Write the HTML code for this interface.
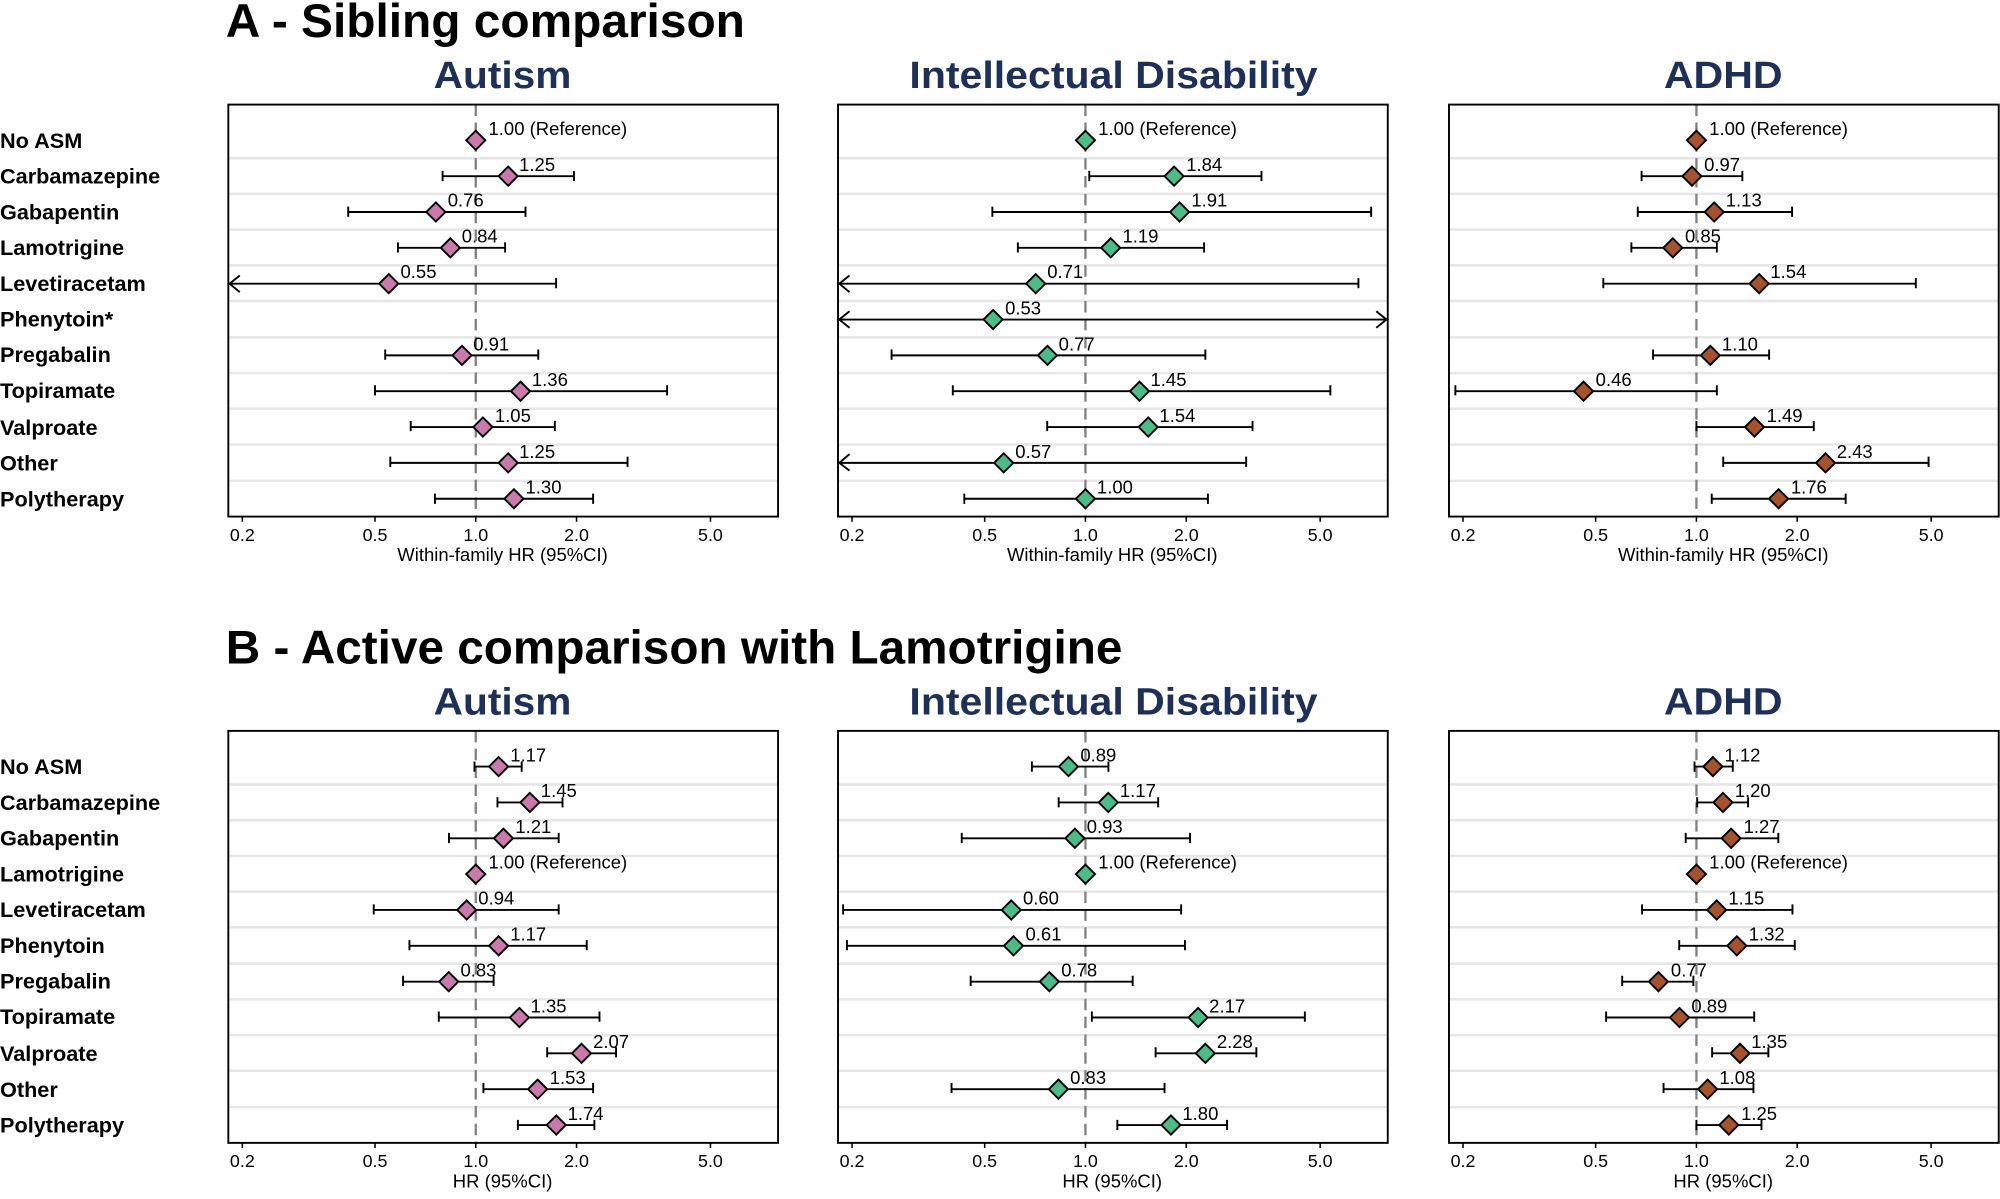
<!DOCTYPE html>
<html><head><meta charset="utf-8"><style>html,body{margin:0;padding:0;background:#fff}svg{display:block}</style></head>
<body>
<svg width="2000" height="1199" viewBox="0 0 1568 940" preserveAspectRatio="none" xmlns="http://www.w3.org/2000/svg" font-family="Liberation Sans, Arial, sans-serif">
<defs>
<path id="d" d="M0,-7.5L7.5,0L0,7.5L-7.5,0Z" stroke="#000" stroke-width="1.5"/>
<g id="frame">
<g stroke="#e6e6e6" stroke-width="2">
<path d="M179 124H610M179 152H610M179 180H610M179 208H610M179 236H610M179 264.5H610M179 292.5H610M179 320.5H610M179 348.5H610M179 377H610"/>
</g>
<path d="M373 82V405" stroke="#808080" stroke-width="1.8" stroke-dasharray="9,5"/>
<rect x="179" y="82" width="431" height="323" fill="none" stroke="#000" stroke-width="1.5"/>
<path d="M190 405V409M294 405V409M373 405V409M452 405V409M557 405V409" stroke="#000" stroke-width="1.2"/>
<g font-size="14" text-anchor="middle" fill="#000">
<text x="190" y="424">0.2</text><text x="294" y="424">0.5</text><text x="373" y="424">1.0</text><text x="452" y="424">2.0</text><text x="557" y="424">5.0</text>
</g>
</g>
</defs>

<text x="177" y="29" font-size="37" font-weight="bold" textLength="407" lengthAdjust="spacingAndGlyphs">A - Sibling comparison</text>
<text x="177" y="520" font-size="37" font-weight="bold" textLength="703" lengthAdjust="spacingAndGlyphs">B - Active comparison with Lamotrigine</text>

<g font-size="30" font-weight="bold" fill="#1e2f58" text-anchor="middle">
<text x="394" y="69" textLength="108" lengthAdjust="spacingAndGlyphs">Autism</text>
<text x="873" y="69" textLength="320" lengthAdjust="spacingAndGlyphs">Intellectual Disability</text>
<text x="1351" y="69" textLength="93" lengthAdjust="spacingAndGlyphs">ADHD</text>
<text x="394" y="560" textLength="108" lengthAdjust="spacingAndGlyphs">Autism</text>
<text x="873" y="560" textLength="320" lengthAdjust="spacingAndGlyphs">Intellectual Disability</text>
<text x="1351" y="560" textLength="93" lengthAdjust="spacingAndGlyphs">ADHD</text>
</g>

<g font-size="17" font-weight="bold">
<text x="0" y="116">No ASM</text><text x="0" y="144">Carbamazepine</text><text x="0" y="172">Gabapentin</text><text x="0" y="200">Lamotrigine</text><text x="0" y="228">Levetiracetam</text><text x="0" y="256">Phenytoin*</text><text x="0" y="284">Pregabalin</text><text x="0" y="312">Topiramate</text><text x="0" y="341">Valproate</text><text x="0" y="369">Other</text><text x="0" y="397">Polytherapy</text>
</g>
<g font-size="17" font-weight="bold" transform="translate(0,491)">
<text x="0" y="116">No ASM</text><text x="0" y="144">Carbamazepine</text><text x="0" y="172">Gabapentin</text><text x="0" y="200">Lamotrigine</text><text x="0" y="228">Levetiracetam</text><text x="0" y="256">Phenytoin</text><text x="0" y="284">Pregabalin</text><text x="0" y="312">Topiramate</text><text x="0" y="341">Valproate</text><text x="0" y="369">Other</text><text x="0" y="397">Polytherapy</text>
</g>

<!-- A Autism -->
<g>
<use href="#frame"/>
<text x="394" y="440" font-size="14.5" text-anchor="middle">Within-family HR (95%CI)</text>
<g stroke="#000" stroke-width="1.5" fill="none">
<path d="M347 138.1H450M347 134V142M450 134V142"/>
<path d="M273 166.2H412M273 162V170M412 162V170"/>
<path d="M312 194.3H396M312 190V198M396 190V198"/>
<path d="M180 222.4H436M436 218V226M188 216L180 222.4L188 229"/>
<path d="M302 278.6H422M302 274V282M422 274V282"/>
<path d="M294 306.7H523M294 302V310M523 302V310"/>
<path d="M322 334.8H435M322 330V338M435 330V338"/>
<path d="M306 362.9H492M306 358V366M492 358V366"/>
<path d="M341 391H465M341 387V395M465 387V395"/>
</g>
<g fill="#c97aab">
<use href="#d" x="373" y="110"/><use href="#d" x="398.4" y="138.1"/><use href="#d" x="341.7" y="166.2"/><use href="#d" x="353.1" y="194.3"/><use href="#d" x="304.8" y="222.4"/><use href="#d" x="362.2" y="278.6"/><use href="#d" x="408.1" y="306.7"/><use href="#d" x="378.6" y="334.8"/><use href="#d" x="398.4" y="362.9"/><use href="#d" x="402.9" y="391"/>
</g>
<g font-size="14.5">
<text x="383" y="106">1.00 (Reference)</text><text x="407" y="134">1.25</text><text x="351" y="162">0.76</text><text x="362" y="190">0.84</text><text x="314" y="218">0.55</text><text x="371" y="274.6">0.91</text><text x="417" y="302.7">1.36</text><text x="388" y="330.8">1.05</text><text x="407" y="358.9">1.25</text><text x="412" y="387">1.30</text>
</g>
</g>

<!-- A ID -->
<g transform="translate(478,0)">
<use href="#frame"/>
<text x="394" y="440" font-size="14.5" text-anchor="middle">Within-family HR (95%CI)</text>
<g stroke="#000" stroke-width="1.5" fill="none">
<path d="M376 138.1H511M376 134V142M511 134V142"/>
<path d="M300 166.2H597M300 162V170M597 162V170"/>
<path d="M320 194.3H466M320 190V198M466 190V198"/>
<path d="M180 222.4H587M587 218V226M188 216L180 222.4L188 229"/>
<path d="M180 250.5H609M188 244L180 250.5L188 257M601 244L609 250.5L601 257"/>
<path d="M221 278.6H467M221 274V282M467 274V282"/>
<path d="M269 306.7H565M269 302V310M565 302V310"/>
<path d="M343 334.8H504M343 330V338M504 330V338"/>
<path d="M180 362.9H499M499 358V366M188 356L180 362.9L188 369"/>
<path d="M278 391H469M278 387V395M469 387V395"/>
</g>
<g fill="#4dbb87">
<use href="#d" x="373" y="110"/><use href="#d" x="442.5" y="138.1"/><use href="#d" x="446.8" y="166.2"/><use href="#d" x="392.8" y="194.3"/><use href="#d" x="334" y="222.4"/><use href="#d" x="300.6" y="250.5"/><use href="#d" x="343.2" y="278.6"/><use href="#d" x="415.4" y="306.7"/><use href="#d" x="422.2" y="334.8"/><use href="#d" x="308.9" y="362.9"/><use href="#d" x="373" y="391"/>
</g>
<g font-size="14.5">
<text x="383" y="106">1.00 (Reference)</text><text x="452" y="134">1.84</text><text x="456" y="162">1.91</text><text x="402" y="190">1.19</text><text x="343" y="218">0.71</text><text x="310" y="246.5">0.53</text><text x="352" y="274.6">0.77</text><text x="424" y="302.7">1.45</text><text x="431" y="330.8">1.54</text><text x="318" y="358.9">0.57</text><text x="382" y="387">1.00</text>
</g>
</g>

<!-- A ADHD -->
<g transform="translate(957,0)">
<use href="#frame"/>
<text x="394" y="440" font-size="14.5" text-anchor="middle">Within-family HR (95%CI)</text>
<g stroke="#000" stroke-width="1.5" fill="none">
<path d="M330 138.1H409M330 134V142M409 134V142"/>
<path d="M327 166.2H448M327 162V170M448 162V170"/>
<path d="M322 194.3H389M322 190V198M389 190V198"/>
<path d="M300 222.4H545M300 218V226M545 218V226"/>
<path d="M339 278.6H430M339 274V282M430 274V282"/>
<path d="M184 306.7H389M184 302V310M389 302V310"/>
<path d="M373 334.8H465M373 330V338M465 330V338"/>
<path d="M394 362.9H555M394 358V366M555 358V366"/>
<path d="M385 391H490M385 387V395M490 387V395"/>
</g>
<g fill="#a5532c">
<use href="#d" x="373" y="110"/><use href="#d" x="369.5" y="138.1"/><use href="#d" x="386.9" y="166.2"/><use href="#d" x="354.5" y="194.3"/><use href="#d" x="422.2" y="222.4"/><use href="#d" x="383.9" y="278.6"/><use href="#d" x="284.5" y="306.7"/><use href="#d" x="418.5" y="334.8"/><use href="#d" x="474.2" y="362.9"/><use href="#d" x="437.4" y="391"/>
</g>
<g font-size="14.5">
<text x="383" y="106">1.00 (Reference)</text><text x="379" y="134">0.97</text><text x="396" y="162">1.13</text><text x="364" y="190">0.85</text><text x="431" y="218">1.54</text><text x="393" y="274.6">1.10</text><text x="294" y="302.7">0.46</text><text x="428" y="330.8">1.49</text><text x="483" y="358.9">2.43</text><text x="447" y="387">1.76</text>
</g>
</g>

<!-- B Autism -->
<g transform="translate(0,491)">
<use href="#frame"/>
<text x="394" y="440" font-size="14.5" text-anchor="middle">HR (95%CI)</text>
<g stroke="#000" stroke-width="1.5" fill="none">
<path d="M372 110H409M372 106V114M409 106V114"/>
<path d="M390 138.1H441M390 134V142M441 134V142"/>
<path d="M352 166.2H438M352 162V170M438 162V170"/>
<path d="M293 222.4H438M293 218V226M438 218V226"/>
<path d="M321 250.5H460M321 246V254M460 246V254"/>
<path d="M316 278.6H387M316 274V282M387 274V282"/>
<path d="M344 306.7H470M344 302V310M470 302V310"/>
<path d="M429 334.8H483M429 330V338M483 330V338"/>
<path d="M379 362.9H465M379 358V366M465 358V366"/>
<path d="M406 391H466M406 387V395M466 387V395"/>
</g>
<g fill="#c97aab">
<use href="#d" x="390.9" y="110"/><use href="#d" x="415.4" y="138.1"/><use href="#d" x="394.7" y="166.2"/><use href="#d" x="373" y="194.3"/><use href="#d" x="365.9" y="222.4"/><use href="#d" x="390.9" y="250.5"/><use href="#d" x="351.8" y="278.6"/><use href="#d" x="407.2" y="306.7"/><use href="#d" x="455.9" y="334.8"/><use href="#d" x="421.5" y="362.9"/><use href="#d" x="436.1" y="391"/>
</g>
<g font-size="14.5">
<text x="400" y="106">1.17</text><text x="424" y="134">1.45</text><text x="404" y="162">1.21</text><text x="383" y="190">1.00 (Reference)</text><text x="375" y="218">0.94</text><text x="400" y="246.5">1.17</text><text x="361" y="274.6">0.83</text><text x="416" y="302.7">1.35</text><text x="465" y="330.8">2.07</text><text x="431" y="358.9">1.53</text><text x="445" y="387">1.74</text>
</g>
</g>

<!-- B ID -->
<g transform="translate(478,491)">
<use href="#frame"/>
<text x="394" y="440" font-size="14.5" text-anchor="middle">HR (95%CI)</text>
<g stroke="#000" stroke-width="1.5" fill="none">
<path d="M331 110H391M331 106V114M391 106V114"/>
<path d="M352 138.1H430M352 134V142M430 134V142"/>
<path d="M276 166.2H455M276 162V170M455 162V170"/>
<path d="M183 222.4H448M183 218V226M448 218V226"/>
<path d="M186 250.5H451M186 246V254M451 246V254"/>
<path d="M283 278.6H410M283 274V282M410 274V282"/>
<path d="M378 306.7H545M378 302V310M545 302V310"/>
<path d="M428 334.8H507M428 330V338M507 330V338"/>
<path d="M268 362.9H435M268 358V366M435 358V366"/>
<path d="M398 391H484M398 387V395M484 387V395"/>
</g>
<g fill="#4dbb87">
<use href="#d" x="359.7" y="110"/><use href="#d" x="390.9" y="138.1"/><use href="#d" x="364.7" y="166.2"/><use href="#d" x="373" y="194.3"/><use href="#d" x="314.8" y="222.4"/><use href="#d" x="316.6" y="250.5"/><use href="#d" x="344.7" y="278.6"/><use href="#d" x="461.3" y="306.7"/><use href="#d" x="467" y="334.8"/><use href="#d" x="351.8" y="362.9"/><use href="#d" x="440" y="391"/>
</g>
<g font-size="14.5">
<text x="369" y="106">0.89</text><text x="400" y="134">1.17</text><text x="374" y="162">0.93</text><text x="383" y="190">1.00 (Reference)</text><text x="324" y="218">0.60</text><text x="326" y="246.5">0.61</text><text x="354" y="274.6">0.78</text><text x="470" y="302.7">2.17</text><text x="476" y="330.8">2.28</text><text x="361" y="358.9">0.83</text><text x="449" y="387">1.80</text>
</g>
</g>

<!-- B ADHD -->
<g transform="translate(957,491)">
<use href="#frame"/>
<text x="394" y="440" font-size="14.5" text-anchor="middle">HR (95%CI)</text>
<g stroke="#000" stroke-width="1.5" fill="none">
<path d="M371.5 110H401.5M371.5 106V114M401.5 106V114"/>
<path d="M373.6 138.1H413.5M373.6 134V142M413.5 134V142"/>
<path d="M364.6 166.2H437.2M364.6 162V170M437.2 162V170"/>
<path d="M330.4 222.4H448.3M330.4 218V226M448.3 218V226"/>
<path d="M359.5 250.5H450.1M359.5 246V254M450.1 246V254"/>
<path d="M314.8 278.6H370.6M314.8 274V282M370.6 274V282"/>
<path d="M302.2 306.7H418.3M302.2 302V310M418.3 302V310"/>
<path d="M385.3 334.8H429.4M385.3 330V338M429.4 330V338"/>
<path d="M347.2 362.9H417.7M347.2 358V366M417.7 358V366"/>
<path d="M373 391H424M373 387V395M424 387V395"/>
</g>
<g fill="#a5532c">
<use href="#d" x="385.9" y="110"/><use href="#d" x="393.8" y="138.1"/><use href="#d" x="400.2" y="166.2"/><use href="#d" x="373" y="194.3"/><use href="#d" x="388.9" y="222.4"/><use href="#d" x="404.7" y="250.5"/><use href="#d" x="343.2" y="278.6"/><use href="#d" x="359.7" y="306.7"/><use href="#d" x="407.2" y="334.8"/><use href="#d" x="381.8" y="362.9"/><use href="#d" x="398.4" y="391"/>
</g>
<g font-size="14.5">
<text x="395" y="106">1.12</text><text x="403" y="134">1.20</text><text x="410" y="162">1.27</text><text x="383" y="190">1.00 (Reference)</text><text x="398" y="218">1.15</text><text x="414" y="246.5">1.32</text><text x="353" y="274.6">0.77</text><text x="369" y="302.7">0.89</text><text x="416" y="330.8">1.35</text><text x="391" y="358.9">1.08</text><text x="408" y="387">1.25</text>
</g>
</g>
</svg>
</body></html>
